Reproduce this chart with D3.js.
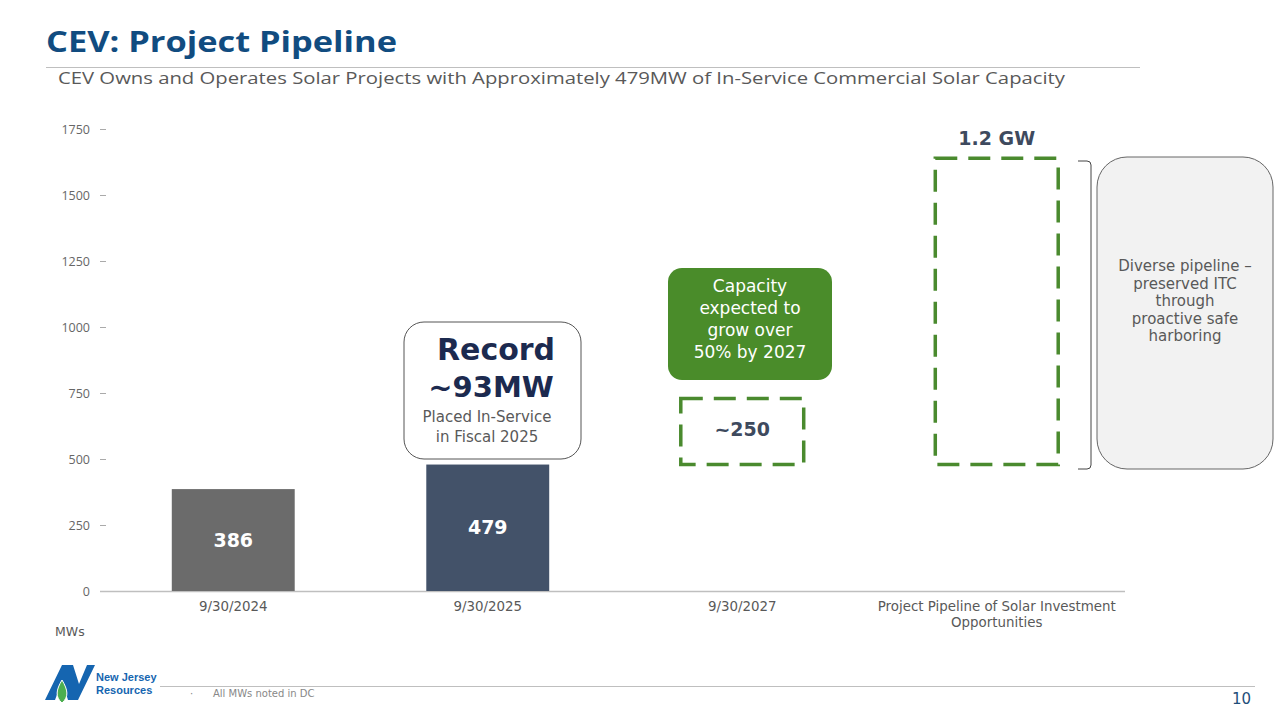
<!DOCTYPE html>
<html><head><meta charset="utf-8">
<script src="https://cdn.jsdelivr.net/npm/d3@7"></script>
<style>body{margin:0;background:#fff;}svg{display:block;font-family:"DejaVu Sans",sans-serif;}</style>
</head><body>
<svg id="c" width="1280" height="720"></svg>
<script>
const categories = ["9/30/2024","9/30/2025","9/30/2027","Project Pipeline of Solar Investment|Opportunities"];
const actualValues = [386, 479, null, null];
const pipelineBase = [null, null, 479, 479];
const pipelineValues = [null, null, 250, 1160];
const barLabels = ["386","479","~250",""];
const yTicks = [0,250,500,750,1000,1250,1500,1750];
const barColors = ["#6b6b6b","#435269"];

const svg = d3.select("#c");
const y = d3.scaleLinear().domain([0,1750]).range([591,129]);
const x = d3.scaleBand().domain(categories).range([106,1124]).paddingInner(0.517).paddingOuter(0.2585);

function fitText(sel, w){ sel.attr("textLength", w).attr("lengthAdjust","spacingAndGlyphs"); return sel; }

// Title
fitText(svg.append("text").attr("x",46).attr("y",52).attr("font-size",29).attr("font-weight",700)
  .attr("fill","#114c80").attr("font-family","Open Sans").text("CEV: Project Pipeline"), 351);
svg.append("line").attr("x1",46).attr("x2",1140).attr("y1",67.5).attr("y2",67.5).attr("stroke","#bfbfbf");
fitText(svg.append("text").attr("x",58).attr("y",84).attr("font-size",16.5).attr("fill","#595959")
  .attr("font-family","Open Sans")
  .text("CEV Owns and Operates Solar Projects with Approximately 479MW of In-Service Commercial Solar Capacity"), 1007);

// Y axis
const yAxis = d3.axisLeft(y).tickValues(yTicks).tickFormat(d3.format("d")).tickSize(6).tickPadding(10);
const ga = svg.append("g").attr("transform","translate(106,0)").call(yAxis);
ga.select(".domain").remove();
ga.selectAll(".tick line").attr("stroke","#aaa");
ga.selectAll(".tick text").attr("font-size",12.5).attr("fill","#666").attr("font-family","Open Sans");

// baseline
svg.append("line").attr("x1",100).attr("x2",1125).attr("y1",y(0)+0.5).attr("y2",y(0)+0.5).attr("stroke","#bfbfbf").attr("stroke-width",1.5);

// bars
categories.forEach((c,i)=>{
  if(actualValues[i]!=null){
    svg.append("rect").attr("x",x(c)).attr("width",x.bandwidth())
      .attr("y",y(actualValues[i])).attr("height",y(0)-y(actualValues[i])).attr("fill",barColors[i]);
    svg.append("text").attr("x",x(c)+x.bandwidth()/2).attr("y",(y(actualValues[i])+y(0))/2)
      .attr("dy","0.35em").attr("text-anchor","middle").attr("font-size",19).attr("font-weight",700)
      .attr("fill","#fff").text(barLabels[i]);
  }
  if(pipelineValues[i]!=null){
    const top = y(pipelineBase[i]+pipelineValues[i]), bot = y(pipelineBase[i]);
    svg.append("rect").attr("x",x(c)).attr("width",x.bandwidth()).attr("y",top).attr("height",bot-top)
      .attr("fill","none").attr("stroke","#4a8a2e").attr("stroke-width",3.5).attr("stroke-dasharray","22,11");
    if(barLabels[i]) svg.append("text").attr("x",x(c)+x.bandwidth()/2).attr("y",(top+bot)/2-2)
      .attr("dy","0.35em").attr("text-anchor","middle").attr("font-size",19).attr("font-weight",700)
      .attr("fill","#3e4a5e").text(barLabels[i]);
  }
  const lines = c.split("|");
  lines.forEach((l,k)=>{
    svg.append("text").attr("x",x(c)+x.bandwidth()/2).attr("y",611+k*16).attr("text-anchor","middle")
      .attr("font-size",13.4).attr("fill","#595959").text(l);
  });
});
svg.append("text").attr("x",55).attr("y",636).attr("font-size",12.5).attr("fill","#595959").text("MWs");

// 1.2 GW label
const c4 = categories[3];
svg.append("text").attr("x",x(c4)+x.bandwidth()/2).attr("y",145).attr("text-anchor","middle")
  .attr("font-size",19).attr("font-weight",700).attr("fill","#3e4a5e").text("1.2 GW");

// Record callout
svg.append("rect").attr("x",404).attr("y",322).attr("width",177).attr("height",137).attr("rx",20)
  .attr("fill","#fff").attr("stroke","#555").attr("stroke-width",1);
svg.append("text").attr("x",496).attr("y",360).attr("text-anchor","middle").attr("font-size",30).attr("font-weight",700).attr("fill","#1c2a4f").text("Record");
svg.append("text").attr("x",491).attr("y",397).attr("text-anchor","middle").attr("font-size",29).attr("font-weight",700).attr("fill","#1c2a4f").text("~93MW");
svg.append("text").attr("x",487).attr("y",422).attr("text-anchor","middle").attr("font-size",15).attr("fill","#595959").text("Placed In-Service");
svg.append("text").attr("x",487).attr("y",442).attr("text-anchor","middle").attr("font-size",15).attr("fill","#595959").text("in Fiscal 2025");

// Green callout
svg.append("rect").attr("x",668).attr("y",268).attr("width",164).attr("height",112).attr("rx",14).attr("fill","#4a8c2a");
["Capacity","expected to","grow over","50% by 2027"].forEach((t,k)=>{
  svg.append("text").attr("x",750).attr("y",292+k*22).attr("text-anchor","middle").attr("font-size",17).attr("fill","#fff").text(t);
});

// Bracket
svg.append("path").attr("d","M1078,161 L1087,161 Q1091,161 1091,165 L1091,465 Q1091,469 1087,469 L1078,469")
  .attr("fill","none").attr("stroke","#444").attr("stroke-width",1);

// Gray callout
svg.append("rect").attr("x",1097).attr("y",157).attr("width",176).attr("height",312).attr("rx",30)
  .attr("fill","#f2f2f2").attr("stroke","#666").attr("stroke-width",1);
["Diverse pipeline –","preserved ITC","through","proactive safe","harboring"].forEach((t,k)=>{
  svg.append("text").attr("x",1185).attr("y",271+k*17.5).attr("text-anchor","middle").attr("font-size",15).attr("fill","#595959").text(t);
});

// Footer
svg.append("line").attr("x1",160).attr("x2",1255).attr("y1",686.5).attr("y2",686.5).attr("stroke","#bfbfbf");
svg.append("text").attr("x",190).attr("y",697).attr("font-size",10).attr("fill","#888").text("·");
svg.append("text").attr("x",213).attr("y",697).attr("font-size",10).attr("fill","#888").text("All MWs noted in DC");
svg.append("text").attr("x",1251).attr("y",704).attr("text-anchor","end").attr("font-size",15).attr("fill","#1f4e79").text("10");

// Logo
const lg = svg.append("g");
lg.append("path").attr("d","M45,700 L62,665 L73,665 L79,684 L87,665 L95,665 L78,700 L68,700 L62,681 L55,700 Z").attr("fill","#1565b0");
lg.append("path").attr("d","M62,703 C55,697 56,690 62,680 C68,690 69,697 62,703 Z").attr("fill","#4caf50").attr("stroke","#fff").attr("stroke-width",1);
lg.append("text").attr("x",96).attr("y",681).attr("font-size",11).attr("font-weight",700).attr("fill","#1565b0").attr("font-family","Liberation Sans").text("New Jersey");
lg.append("text").attr("x",96).attr("y",694).attr("font-size",11).attr("font-weight",700).attr("fill","#1565b0").attr("font-family","Liberation Sans").text("Resources");
</script>
</body></html>
